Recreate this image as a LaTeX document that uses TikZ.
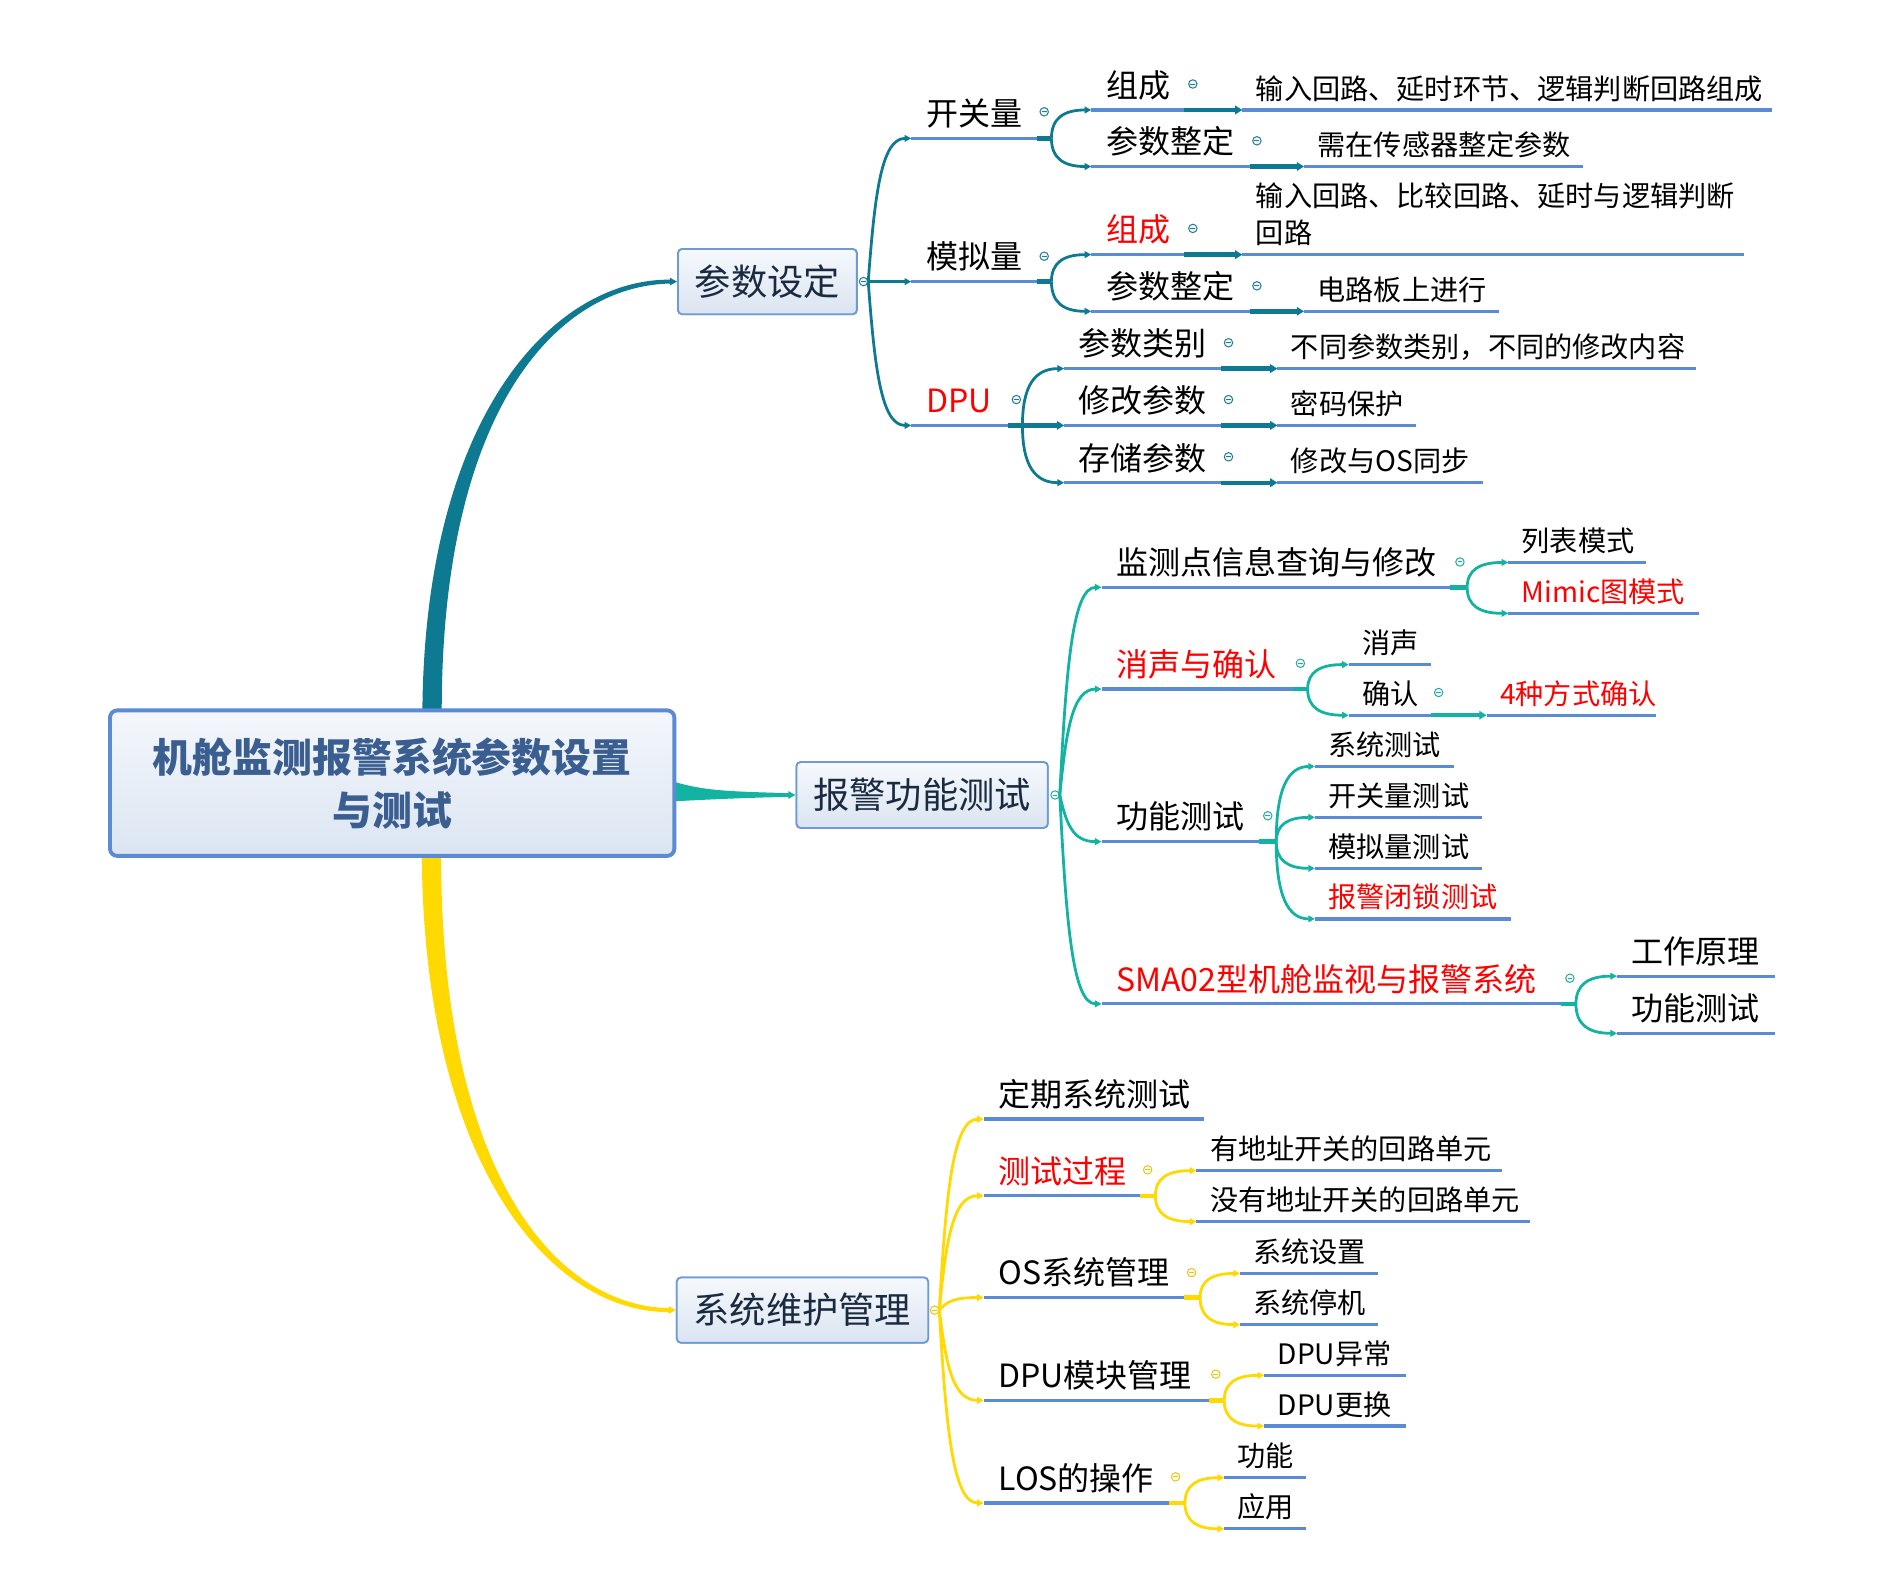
\documentclass[tikz,border=0pt]{standalone}
\usepackage{fontspec}
\setmainfont{Noto Sans CJK SC}
\usetikzlibrary{arrows.meta,calc}
\definecolor{tA}{HTML}{0E7A92}
\definecolor{tB}{HTML}{12B3A2}
\definecolor{tC}{HTML}{FFD900}
\definecolor{ulc}{HTML}{5A8CD5}
\definecolor{boxd}{HTML}{6E9BD5}
\definecolor{rootd}{HTML}{5A8BD3}
\definecolor{roottx}{HTML}{3A5E90}
\definecolor{maintx}{HTML}{1A2A40}
\definecolor{rd}{HTML}{FF0000}
\definecolor{boxT}{HTML}{F6F9FD}
\definecolor{boxB}{HTML}{DAE4F1}
\definecolor{rootT}{HTML}{F4F7FC}
\definecolor{rootB}{HTML}{DBE5F2}
\newcommand\mtp[7]{%
  \coordinate (#1-s) at (#2,#4);
  \coordinate (#1-e) at (#3,#4);
  \draw[uline] (#1-s) -- (#1-e);
  \node[#5,text=#6] (#1) at (#2,#4) {#7};}
\newcommand\mic[4]{\node[icn=#4] (#1) at (#2,#3) {};}
\newcommand\mspn[3]{\draw[conn,#1] let \p1=(#2),\p2=(#3) in (\p1) .. controls ({\x1+0.15*(\x2-\x1)},{\y1+0.6*(\y2-\y1)}) and ({\x1+0.3*(\x2-\x1)},\y2) .. (\p2);}
\newcommand\mfrk[3]{\draw[conn,#1] let \p1=(#2),\p2=(#3) in (\p1) .. controls (\x1,{\y1+0.7*(\y2-\y1)}) and ({\x1+0.3*(\x2-\x1)},\y2) .. (\p2);}
\newcommand\mstb[3]{\draw[stub,#1] (#2) -- (#3);}
\newcommand\mlnk[3]{\draw[stub,#1,-{Triangle[length=6pt,width=7pt]}] (#2) -- (#3);}
\begin{document}
\begin{tikzpicture}[x=1pt,y=-1pt,
  uline/.style={draw=ulc,line width=2.7pt},
  stub/.style={line width=3.6pt},
  conn/.style={line width=2.3pt,-{Triangle[length=5.5pt,width=5.5pt]}},
  tbig/.style={font=\fontsize{26.5}{30}\selectfont,inner sep=0pt,anchor=base west,xshift=12pt,yshift=10.5pt},
  tleaf/.style={font=\fontsize{23.3}{30.5}\selectfont,inner sep=0pt,anchor=base west,xshift=11pt,yshift=9pt},
  icn/.style={circle,minimum size=7pt,inner sep=0pt,draw=#1!80!gray,fill=#1!8!white,line width=0.8pt,
    path picture={\draw[#1!80!gray,line width=0.8pt] ([xshift=-2pt]path picture bounding box.center) -- ([xshift=2pt]path picture bounding box.center);}},
  mbox/.style={draw=boxd,line width=1.5pt,rounded corners=3.5pt,top color=boxT,bottom color=boxB,text=maintx,font=\fontsize{30}{36}\selectfont,inner sep=0pt},
  rootbox/.style={draw=rootd,line width=3.2pt,rounded corners=6pt,top color=rootT,bottom color=rootB,minimum width=467pt,minimum height=120.4pt,align=center,text=roottx,font=\fontsize{33}{44}\selectfont\bfseries,inner sep=0pt}
]
\useasboundingbox (0,0) rectangle (1568,1306.6);
\fill[white] (0,0) rectangle (1568,1306.6);

% ---------- root and main topics ----------
\coordinate (rootc) at (324.5,648);
\node[mbox,minimum width=148pt,minimum height=54pt] (m1) at (635,233) {参数设定};
\node[mbox,minimum width=208pt,minimum height=54.5pt] (m2) at (763,657.8) {报警功能测试};
\node[mbox,minimum width=208pt,minimum height=54pt] (m3) at (664,1084) {系统维护管理};

% tapered connectors from root
\coordinate (a0) at (357.5,588);
\coordinate (c0) at (357,708);
\coordinate (b0) at (558,648);
\fill[tA] ($(a0)+(-8,40)$) -- ($(a0)+(-8,0)$) .. controls ($(a0)+(-6,-248)$) and ($(m1.west)+(-100,-3)$) .. ($(m1.west)+(-5,-1.6)$)
  -- ($(m1.west)+(-5,1.6)$) .. controls ($(m1.west)+(-100,3)$) and ($(a0)+(8,-248)$) .. ($(a0)+(8,0)$) -- ($(a0)+(8,40)$) -- cycle;
\draw[tA,line width=2pt,-{Triangle[length=6pt,width=6pt]}] ($(m1.west)+(-8,0)$) -- (m1.west);
\fill[tC] ($(c0)+(-8,-40)$) -- ($(c0)+(-8,0)$) .. controls ($(c0)+(-6,262)$) and ($(m3.west)+(-100,3)$) .. ($(m3.west)+(-5,1.6)$)
  -- ($(m3.west)+(-5,-1.6)$) .. controls ($(m3.west)+(-100,-3)$) and ($(c0)+(8,262)$) .. ($(c0)+(8,0)$) -- ($(c0)+(8,-40)$) -- cycle;
\draw[tC,line width=2pt,-{Triangle[length=6pt,width=6pt]}] ($(m3.west)+(-8,0)$) -- (m3.west);
\fill[tB] ($(b0)+(-8,-1)$) -- ($(b0)+(0,-1)$) .. controls ($(b0)+(25,6)$) and ($(m2.west)+(-60,-3)$) .. ($(m2.west)+(-5,-1.5)$)
  -- ($(m2.west)+(-5,1.5)$) .. controls ($(m2.west)+(-50,2.5)$) and ($(b0)+(20,14)$) .. ($(b0)+(0,15)$) -- ($(b0)+(-8,15)$) -- cycle;
\draw[tB,line width=2pt,-{Triangle[length=6pt,width=6pt]}] ($(m2.west)+(-8,0)$) -- (m2.west);

\node[rootbox] (root) at (rootc) {机舱监测报警系统参数设置\\与测试};
\node[mbox,minimum width=148pt,minimum height=54pt] at (m1) {参数设定};
\node[mbox,minimum width=208pt,minimum height=54.5pt] at (m2) {报警功能测试};
\node[mbox,minimum width=208pt,minimum height=54pt] at (m3) {系统维护管理};

% ---------- branch A ----------
\mtp{A1}{754}{858}{114.5}{tbig}{black}{开关量}
\mtp{A2}{754}{858}{233}{tbig}{black}{模拟量}
\mtp{A3}{754}{834}{352}{tbig}{rd}{DPU}
\mtp{A11}{903}{980}{91}{tbig}{black}{组成}
\mtp{A111}{1028}{1466}{91}{tleaf}{black}{输入回路、延时环节、逻辑判断回路组成}
\mtp{A12}{903}{1034}{137.8}{tbig}{black}{参数整定}
\mtp{A121}{1079}{1310}{137.8}{tleaf}{black}{需在传感器整定参数}
\mtp{A21}{903}{980}{210.7}{tbig}{rd}{组成}
\coordinate (A211-s) at (1028,210.7);
\coordinate (A211-e) at (1443,210.7);
\draw[uline] (A211-s) -- (A211-e);
\node[tleaf,align=left] (A211) at (A211-s) {输入回路、比较回路、延时与逻辑判断\\回路};
\mtp{A22}{903}{1034}{257.6}{tbig}{black}{参数整定}
\mtp{A221}{1079}{1240}{257.6}{tleaf}{black}{电路板上进行}
\mtp{A31}{880.5}{1010}{305}{tbig}{black}{参数类别}
\mtp{A311}{1057}{1403}{305}{tleaf}{black}{不同参数类别，不同的修改内容}
\mtp{A32}{880.5}{1010}{352}{tbig}{black}{修改参数}
\mtp{A321}{1057}{1172}{352}{tleaf}{black}{密码保护}
\mtp{A33}{880.5}{1010}{399.4}{tbig}{black}{存储参数}
\mtp{A331}{1057}{1227}{399.4}{tleaf}{black}{修改与OS同步}

\mic{m1i}{714.5}{233}{tA}
\coordinate (m1o) at (m1i.east);
\mspn{tA}{m1o}{A1-s}
\mspn{tA}{m1o}{A2-s}
\mspn{tA}{m1o}{A3-s}
\coordinate (A1-f) at (870,114.5);
\coordinate (A2-f) at (870,233);
\coordinate (A3-f) at (846,352);
\mstb{tA}{A1-e}{A1-f}
\mfrk{tA}{A1-f}{A11-s}
\mfrk{tA}{A1-f}{A12-s}
\mstb{tA}{A2-e}{A2-f}
\mfrk{tA}{A2-f}{A21-s}
\mfrk{tA}{A2-f}{A22-s}
\mlnk{tA}{A3-e}{A32-s}
\mfrk{tA}{A3-f}{A31-s}
\mfrk{tA}{A3-f}{A33-s}
\mlnk{tA}{A11-e}{A111-s}
\mlnk{tA}{A12-e}{A121-s}
\mlnk{tA}{A21-e}{A211-s}
\mlnk{tA}{A22-e}{A221-s}
\mlnk{tA}{A31-e}{A311-s}
\mlnk{tA}{A32-e}{A321-s}
\mlnk{tA}{A33-e}{A331-s}
\mic{A1i}{864}{92.5}{tA}
\mic{A2i}{864}{212}{tA}
\mic{A3i}{841}{330.6}{tA}
\mic{A11i}{987}{69.5}{tA}
\mic{A12i}{1040}{116.5}{tA}
\mic{A21i}{987}{189}{tA}
\mic{A22i}{1040}{236.5}{tA}
\mic{A31i}{1016.5}{283.6}{tA}
\mic{A32i}{1016.5}{330.6}{tA}
\mic{A33i}{1016.5}{378}{tA}

% ---------- branch B ----------
\mtp{B1}{911.5}{1200}{486}{tbig}{black}{监测点信息查询与修改}
\mtp{B11}{1248}{1362}{465.4}{tleaf}{black}{列表模式}
\mtp{B12}{1248}{1406}{507.5}{tleaf}{rd}{Mimic图模式}
\mtp{B2}{911.5}{1070}{570.2}{tbig}{rd}{消声与确认}
\mtp{B21}{1116}{1184}{549.9}{tleaf}{black}{消声}
\mtp{B22}{1116}{1184}{591.8}{tleaf}{black}{确认}
\mtp{B221}{1230}{1370}{591.8}{tleaf}{rd}{4种方式确认}
\mtp{B3}{911.5}{1042}{696.4}{tbig}{black}{功能测试}
\mtp{B31}{1088}{1203}{634.2}{tleaf}{black}{系统测试}
\mtp{B32}{1088}{1226}{676.3}{tleaf}{black}{开关量测试}
\mtp{B33}{1088}{1226}{718.5}{tleaf}{black}{模拟量测试}
\mtp{B34}{1088}{1250}{760.3}{tleaf}{rd}{报警闭锁测试}
\mtp{B4}{911.5}{1292}{830.6}{tbig}{rd}{SMA02型机舱监视与报警系统}
\mtp{B41}{1338}{1468.6}{807.7}{tbig}{black}{工作原理}
\mtp{B42}{1338}{1468.6}{855}{tbig}{black}{功能测试}

\mic{m2i}{873}{657.8}{tB}
\coordinate (m2o) at (m2i.east);
\mspn{tB}{m2o}{B1-s}
\mspn{tB}{m2o}{B2-s}
\mspn{tB}{m2o}{B3-s}
\mspn{tB}{m2o}{B4-s}
\coordinate (B1-f) at (1214,486);
\coordinate (B2-f) at (1082,570.2);
\coordinate (B3-f) at (1056,696.4);
\coordinate (B4-f) at (1304,830.6);
\mstb{tB}{B1-e}{B1-f}
\mfrk{tB}{B1-f}{B11-s}
\mfrk{tB}{B1-f}{B12-s}
\mstb{tB}{B2-e}{B2-f}
\mfrk{tB}{B2-f}{B21-s}
\mfrk{tB}{B2-f}{B22-s}
\mlnk{tB}{B22-e}{B221-s}
\mstb{tB}{B3-e}{B3-f}
\mfrk{tB}{B3-f}{B31-s}
\mfrk{tB}{B3-f}{B32-s}
\mfrk{tB}{B3-f}{B33-s}
\mfrk{tB}{B3-f}{B34-s}
\mstb{tB}{B4-e}{B4-f}
\mfrk{tB}{B4-f}{B41-s}
\mfrk{tB}{B4-f}{B42-s}
\mic{B1i}{1208}{465}{tB}
\mic{B2i}{1076}{548.8}{tB}
\mic{B22i}{1190.4}{573}{tB}
\mic{B3i}{1049}{675}{tB}
\mic{B4i}{1299}{809.4}{tB}

% ---------- branch C ----------
\mtp{C1}{814}{996}{926}{tbig}{black}{定期系统测试}
\mtp{C2}{814}{943}{989.4}{tbig}{rd}{测试过程}
\mtp{C21}{990}{1242.6}{968.6}{tleaf}{black}{有地址开关的回路单元}
\mtp{C22}{990}{1266}{1010.8}{tleaf}{black}{没有地址开关的回路单元}
\mtp{C3}{814}{980}{1073.6}{tbig}{black}{OS系统管理}
\mtp{C31}{1026}{1140.5}{1053.7}{tleaf}{black}{系统设置}
\mtp{C32}{1026}{1140.5}{1096}{tleaf}{black}{系统停机}
\mtp{C4}{814}{1000}{1158.7}{tbig}{black}{DPU模块管理}
\mtp{C41}{1046}{1163}{1138}{tleaf}{black}{DPU异常}
\mtp{C42}{1046}{1163}{1180}{tleaf}{black}{DPU更换}
\mtp{C5}{814}{967}{1243.6}{tbig}{black}{LOS的操作}
\mtp{C51}{1013}{1081}{1222.7}{tleaf}{black}{功能}
\mtp{C52}{1013}{1081}{1265}{tleaf}{black}{应用}

\mic{m3i}{773.3}{1084}{tC}
\coordinate (m3o) at (m3i.east);
\mspn{tC}{m3o}{C1-s}
\mspn{tC}{m3o}{C2-s}
\mspn{tC}{m3o}{C3-s}
\mspn{tC}{m3o}{C4-s}
\mspn{tC}{m3o}{C5-s}
\coordinate (C2-f) at (956,989.4);
\coordinate (C3-f) at (993,1073.6);
\coordinate (C4-f) at (1013,1158.7);
\coordinate (C5-f) at (980.5,1243.6);
\mstb{tC}{C2-e}{C2-f}
\mfrk{tC}{C2-f}{C21-s}
\mfrk{tC}{C2-f}{C22-s}
\mstb{tC}{C3-e}{C3-f}
\mfrk{tC}{C3-f}{C31-s}
\mfrk{tC}{C3-f}{C32-s}
\mstb{tC}{C4-e}{C4-f}
\mfrk{tC}{C4-f}{C41-s}
\mfrk{tC}{C4-f}{C42-s}
\mstb{tC}{C5-e}{C5-f}
\mfrk{tC}{C5-f}{C51-s}
\mfrk{tC}{C5-f}{C52-s}
\mic{C2i}{949.6}{968}{tC}
\mic{C3i}{986}{1053}{tC}
\mic{C4i}{1006}{1137}{tC}
\mic{C5i}{972.7}{1222}{tC}
\end{tikzpicture}
\end{document}
